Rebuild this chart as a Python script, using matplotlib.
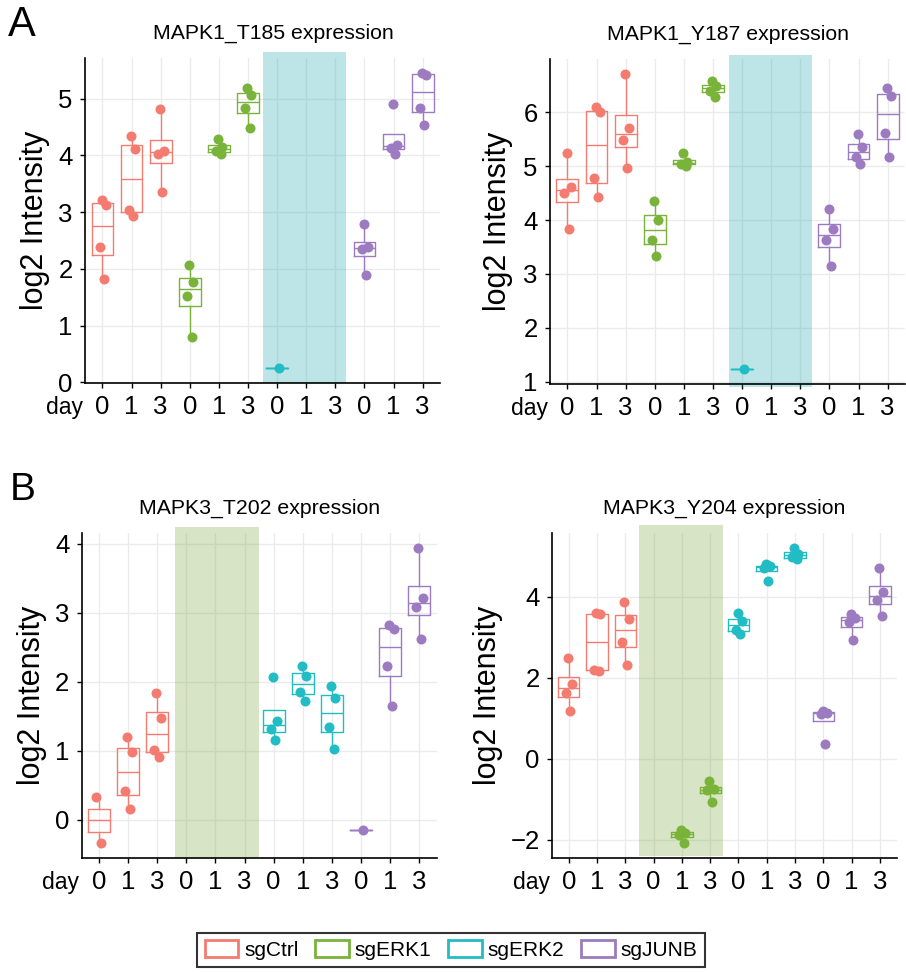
import numpy as np
import matplotlib
matplotlib.use("Agg")
import matplotlib.pyplot as plt
from matplotlib.patches import Patch, Rectangle
from matplotlib import transforms

plt.rcParams['font.family'] = ['Liberation Sans', 'DejaVu Sans']

groups = ["sgCtrl", "sgERK1", "sgERK2", "sgJUNB"]
days = ["0", "1", "3"]
group_colors = ["#F47B70", "#7AB33A", "#22BDC4", "#9C7BC1"]

# values read per group, per day (0, 1, 3)
t185_ctrl = [[1.83, 2.38, 3.13, 3.22], [2.94, 3.03, 4.12, 4.34], [3.36, 4.03, 4.08, 4.81]]
t185_erk1 = [[0.80, 1.53, 1.77, 2.07], [4.02, 4.08, 4.14, 4.29], [4.48, 4.83, 5.06, 5.19]]
t185_erk2 = [[0.25], [], []]
t185_junb = [[1.89, 2.35, 2.38, 2.79], [4.03, 4.13, 4.19, 4.91], [4.54, 4.83, 5.42, 5.45]]

y187_ctrl = [[3.84, 4.50, 4.61, 5.24], [4.43, 4.78, 6.01, 6.09], [4.97, 5.49, 5.70, 6.71]]
y187_erk1 = [[3.33, 3.62, 4.00, 4.35], [5.01, 5.04, 5.07, 5.25], [6.29, 6.40, 6.49, 6.59]]
y187_erk2 = [[1.23], [], []]
y187_junb = [[3.15, 3.62, 3.84, 4.20], [5.04, 5.17, 5.35, 5.59], [5.17, 5.62, 6.31, 6.45]]

t202_ctrl = [[-0.34, 0.33], [0.15, 0.42, 0.98, 1.20], [0.91, 1.01, 1.47, 1.84]]
t202_erk1 = [[], [], []]
t202_erk2 = [[1.15, 1.32, 1.43, 2.07], [1.72, 1.85, 2.09, 2.23], [1.02, 1.35, 1.76, 1.94]]
t202_junb = [[-0.15], [1.65, 2.23, 2.77, 2.82], [2.62, 3.09, 3.21, 3.94]]

y204_ctrl = [[1.18, 1.63, 1.85, 2.49], [2.17, 2.20, 3.57, 3.59], [2.31, 2.89, 3.45, 3.88]]
y204_erk1 = [[], [-2.09, -1.88, -1.84, -1.77], [-1.07, -0.78, -0.75, -0.56]]
y204_erk2 = [[3.08, 3.18, 3.41, 3.59], [4.38, 4.72, 4.76, 4.80], [4.92, 4.98, 5.06, 5.20]]
y204_junb = [[0.36, 1.11, 1.13, 1.17], [2.94, 3.37, 3.47, 3.56], [3.52, 3.92, 4.12, 4.72]]

titles = ["MAPK1_T185 expression", "MAPK1_Y187 expression",
          "MAPK3_T202 expression", "MAPK3_Y204 expression"]
yticks_list = [[0, 1, 2, 3, 4, 5], [1, 2, 3, 4, 5, 6], [0, 1, 2, 3, 4], [-2, 0, 2, 4]]

JITTER = [0.06, -0.1, 0.12, -0.03]


def draw_panel(ax, title, series, yticks, shade, ylab_x, title_x=0.5):
    all_vals = []
    for gi, (vals, col) in enumerate(zip(series, group_colors)):
        for di, v in enumerate(vals):
            if len(v) == 0:
                continue
            all_vals += v
            pos = gi * 3 + di + 1
            ax.boxplot([v], positions=[pos], widths=0.75, showfliers=False,
                       showcaps=False, whis=1.5, manage_ticks=False,
                       boxprops=dict(color=col, lw=1.0),
                       whiskerprops=dict(color=col, lw=1.0),
                       medianprops=dict(color=col, lw=1.0), zorder=3)
            ax.scatter(pos + np.array(JITTER[:len(v)]), v, s=52, color=col,
                       lw=0, zorder=4)

    lo, hi = min(all_vals), max(all_vals)
    pad = 0.05 * (hi - lo)
    ax.set_ylim(lo - pad, hi + pad)
    ax.set_xlim(0.4, 12.6)

    # shaded band over the missing knockout
    x0, x1, yb, yt, scol = shade
    trans = transforms.blended_transform_factory(ax.transData, ax.transAxes)
    ax.add_patch(Rectangle((x0, yb), x1 - x0, yt - yb, transform=trans,
                           facecolor=scol, alpha=0.3, lw=0, clip_on=False, zorder=1))

    ax.set_xticks(np.arange(1, 13))
    ax.set_xticklabels(days * 4)
    ax.set_yticks(yticks)
    ax.grid(True, color="#EBEBEB", lw=1.0)
    ax.set_axisbelow(True)
    for s in ["top", "right"]:
        ax.spines[s].set_visible(False)
    for s in ["left", "bottom"]:
        ax.spines[s].set_linewidth(1.2)
    ax.tick_params(axis="both", length=3.8, width=1.0, labelsize=18.5, pad=5)

    ax.annotate("day", xy=(0, 0), xycoords="axes fraction", xytext=(-1.5, -9.5),
                textcoords="offset points", ha="right", va="top", fontsize=16.5)
    ax.set_ylabel("log2 Intensity", fontsize=22)
    ax.yaxis.set_label_coords(ylab_x, 0.5)
    ax.set_title(title, fontsize=15.3, pad=14, x=title_x)


fig = plt.figure(figsize=(9.06, 9.72), dpi=100)
ax1 = fig.add_axes([0.0938, 0.606, 0.392, 0.334])
ax2 = fig.add_axes([0.607, 0.605, 0.392, 0.334])
ax3 = fig.add_axes([0.090, 0.1173, 0.392, 0.334])
ax4 = fig.add_axes([0.609, 0.1173, 0.381, 0.334])

draw_panel(ax1, titles[0], [t185_ctrl, t185_erk1, t185_erk2, t185_junb], yticks_list[0],
           (6.52, 9.37, 0.0, 1.02, "#26A9B5"), -0.099, title_x=0.53)
draw_panel(ax2, titles[1], [y187_ctrl, y187_erk1, y187_erk2, y187_junb], yticks_list[1],
           (6.54, 9.41, -0.01, 1.013, "#26A9B5"), -0.104)
draw_panel(ax3, titles[2], [t202_ctrl, t202_erk1, t202_erk2, t202_junb], yticks_list[2],
           (3.6, 6.5, 0.0, 1.018, "#7BAA45"), -0.098)
draw_panel(ax4, titles[3], [y204_ctrl, y204_erk1, y204_erk2, y204_junb], yticks_list[3],
           (3.5, 6.47, 0.005, 1.025, "#7BAA45"), -0.14)

fig.text(0.009, 0.963, "A", fontsize=30, ha="left", va="baseline")
fig.text(0.011, 0.486, "B", fontsize=28, ha="left", va="baseline")

handles = [Patch(facecolor="white", edgecolor=c, lw=2) for c in group_colors]
leg = fig.legend(handles, groups, loc="center", bbox_to_anchor=(0.498, 0.0226),
                 ncol=4, fontsize=15, frameon=True, fancybox=False,
                 handlelength=1.6, handleheight=0.85, handletextpad=0.3,
                 columnspacing=0.8, borderpad=0.35)
leg.get_frame().set_edgecolor("black")
leg.get_frame().set_linewidth(1.5)

fig.savefig("out.png", dpi=100, facecolor="white")
